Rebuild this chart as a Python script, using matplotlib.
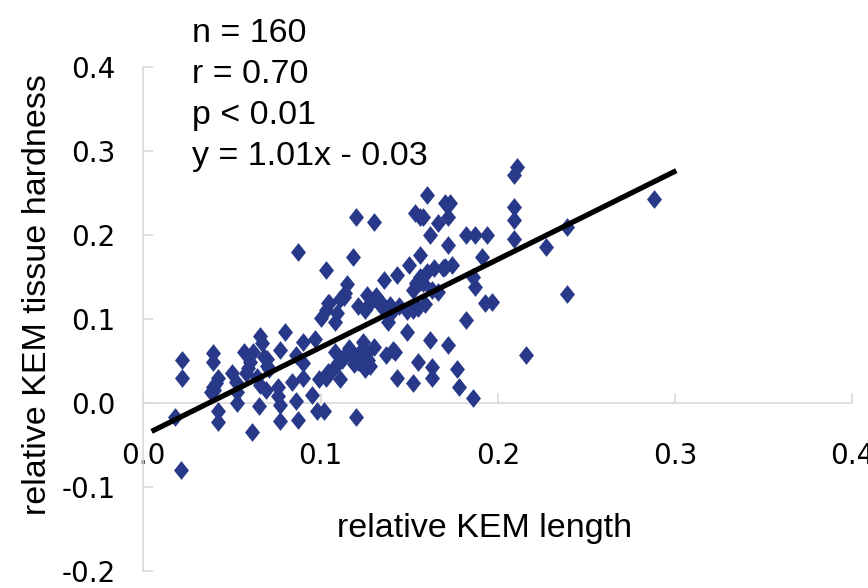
import matplotlib
matplotlib.use("Agg")
import matplotlib.pyplot as plt
import numpy as np

# relative KEM length (x) and relative KEM tissue hardness (y)
kem_length = [
    0.018, 0.021, 0.022, 0.022, 0.039, 0.039, 0.039, 0.042, 0.040, 0.042,
    0.042, 0.038, 0.050, 0.052, 0.053, 0.053, 0.057, 0.059, 0.062, 0.060,
    0.061, 0.065, 0.066, 0.066, 0.067, 0.068, 0.064, 0.070, 0.071, 0.069,
    0.076, 0.076, 0.077, 0.077, 0.080, 0.077, 0.084, 0.086, 0.086, 0.087,
    0.087, 0.090, 0.090, 0.090, 0.095, 0.097, 0.098, 0.100, 0.103, 0.103,
    0.102, 0.104, 0.103, 0.104, 0.107, 0.108, 0.112, 0.111, 0.109, 0.105,
    0.108, 0.114, 0.115, 0.113, 0.116, 0.118, 0.120, 0.118, 0.121, 0.120,
    0.121, 0.124, 0.125, 0.127, 0.126, 0.126, 0.125, 0.128, 0.130, 0.130,
    0.135, 0.136, 0.139, 0.138, 0.137, 0.142, 0.143, 0.143, 0.140, 0.149,
    0.149, 0.150, 0.152, 0.152, 0.152, 0.155, 0.155, 0.153, 0.156, 0.156,
    0.158, 0.160, 0.159, 0.160, 0.164, 0.162, 0.162, 0.163, 0.163, 0.163,
    0.166, 0.166, 0.169, 0.170, 0.173, 0.172, 0.172, 0.172, 0.174, 0.177,
    0.178, 0.182, 0.187, 0.194, 0.182, 0.186, 0.186, 0.187, 0.191, 0.193,
    0.197, 0.211, 0.209, 0.209, 0.209, 0.209, 0.216, 0.227, 0.239, 0.239,
    0.288, 0.122, 0.128, 0.114, 0.141, 0.156, 0.156, 0.154, 0.170, 0.058,
    0.041, 0.070, 0.110, 0.119, 0.158, 0.134, 0.099, 0.111, 0.131, 0.144,
]
kem_hardness = [
    -0.017, -0.080, 0.051, 0.030, 0.060, 0.049, 0.019, 0.030, 0.016, -0.010,
    -0.023, 0.013, 0.036, 0.025, 0.013, 0.000, 0.061, 0.042, 0.061, 0.049,
    -0.035, -0.004, 0.022, 0.080, 0.071, 0.055, 0.031, 0.052, 0.040, 0.016,
    0.019, 0.008, -0.002, 0.063, 0.085, -0.021, 0.025, 0.057, 0.002, -0.020,
    0.180, 0.073, 0.048, 0.030, 0.010, 0.076, -0.010, 0.101, 0.111, 0.030,
    -0.010, 0.119, 0.158, 0.037, 0.040, 0.061, 0.051, 0.028, 0.107, 0.119,
    0.097, 0.131, 0.142, 0.126, 0.066, 0.174, 0.222, 0.055, 0.049, -0.017,
    0.115, 0.073, 0.040, 0.051, 0.060, 0.129, 0.111, 0.119, 0.216, 0.067,
    0.117, 0.147, 0.117, 0.097, 0.057, 0.061, 0.030, 0.153, 0.107, 0.109,
    0.085, 0.164, 0.024, 0.135, 0.111, 0.049, 0.113, 0.226, 0.176, 0.144,
    0.222, 0.248, 0.118, 0.156, 0.161, 0.200, 0.075, 0.043, 0.030, 0.135,
    0.132, 0.214, 0.161, 0.238, 0.238, 0.222, 0.188, 0.069, 0.164, 0.040,
    0.019, 0.200, 0.200, 0.200, 0.099, 0.006, 0.150, 0.138, 0.174, 0.119,
    0.120, 0.281, 0.271, 0.233, 0.218, 0.195, 0.057, 0.186, 0.210, 0.130,
    0.243, 0.061, 0.044, 0.057, 0.063, 0.222, 0.150, 0.143, 0.162, 0.036,
    0.024, 0.044, 0.048, 0.046, 0.143, 0.115, 0.028, 0.124, 0.128, 0.116,
]

# trend line as drawn
fit_slope = 1.048
fit_intercept = -0.0386
fit_x = np.array([0.0046, 0.3008])

stats_lines = ["n = 160", "r = 0.70", "p < 0.01", "y = 1.01x - 0.03"]

x_ticks = [0.0, 0.1, 0.2, 0.3, 0.4]
x_tick_labels = ["0.0", "0.1", "0.2", "0.3", "0.4"]
y_ticks = [-0.2, -0.1, 0.0, 0.1, 0.2, 0.3, 0.4]
y_tick_labels = ["-0.2", "-0.1", "0.0", "0.1", "0.2", "0.3", "0.4"]

marker_color = "#29398A"
axis_color = "#D9D9D9"

plt.rcParams["font.family"] = ["Liberation Sans", "DejaVu Sans"]

fig = plt.figure(figsize=(8.68, 5.88), dpi=100)
ax = fig.add_axes([0.1653, 0.0289, 0.8163, 0.8571])

diamond = [(0, 1), (0.8, 0), (0, -1), (-0.8, 0), (0, 1)]
ax.plot(kem_length, kem_hardness, linestyle="none", marker=diamond,
        markersize=13.5, color=marker_color, markeredgewidth=0, zorder=3,
        clip_on=False)

ax.plot(fit_x, fit_slope * fit_x + fit_intercept, color="black",
        linewidth=3.8, solid_capstyle="butt", zorder=4)

ax.set_xlim(0, 0.4)
ax.set_ylim(-0.2, 0.4)

for side in ["top", "right"]:
    ax.spines[side].set_visible(False)
ax.spines["bottom"].set_position(("data", 0))
ax.spines["left"].set_position(("data", 0))
for side in ["bottom", "left"]:
    ax.spines[side].set_color(axis_color)
    ax.spines[side].set_linewidth(1.2)

narrow = ["Liberation Sans Narrow", "DejaVu Sans"]
ax.set_xticks(x_ticks)
ax.set_xticklabels(x_tick_labels, family=narrow, fontsize=20)
ax.set_yticks(y_ticks)
ax.set_yticklabels(y_tick_labels, family=narrow, fontsize=20)
ax.tick_params(axis="x", direction="in", length=7, width=1.2,
               color=axis_color, pad=28)
ax.tick_params(axis="y", direction="in", length=7, width=1.2,
               color=axis_color, pad=20)

fig.text(485 / 868, 1 - 528 / 588, "relative KEM length", fontsize=24.5,
         ha="center", va="center")
fig.text(38 / 868, 1 - 295 / 588, "relative KEM tissue hardness",
         fontsize=24.5, ha="center", va="center", rotation=90)

baselines = [42, 83, 124, 165]
for line, base in zip(stats_lines, baselines):
    fig.text(192 / 868, 1 - base / 588, line, fontsize=24.5,
             ha="left", va="baseline")

fig.savefig("out.png", dpi=100)
